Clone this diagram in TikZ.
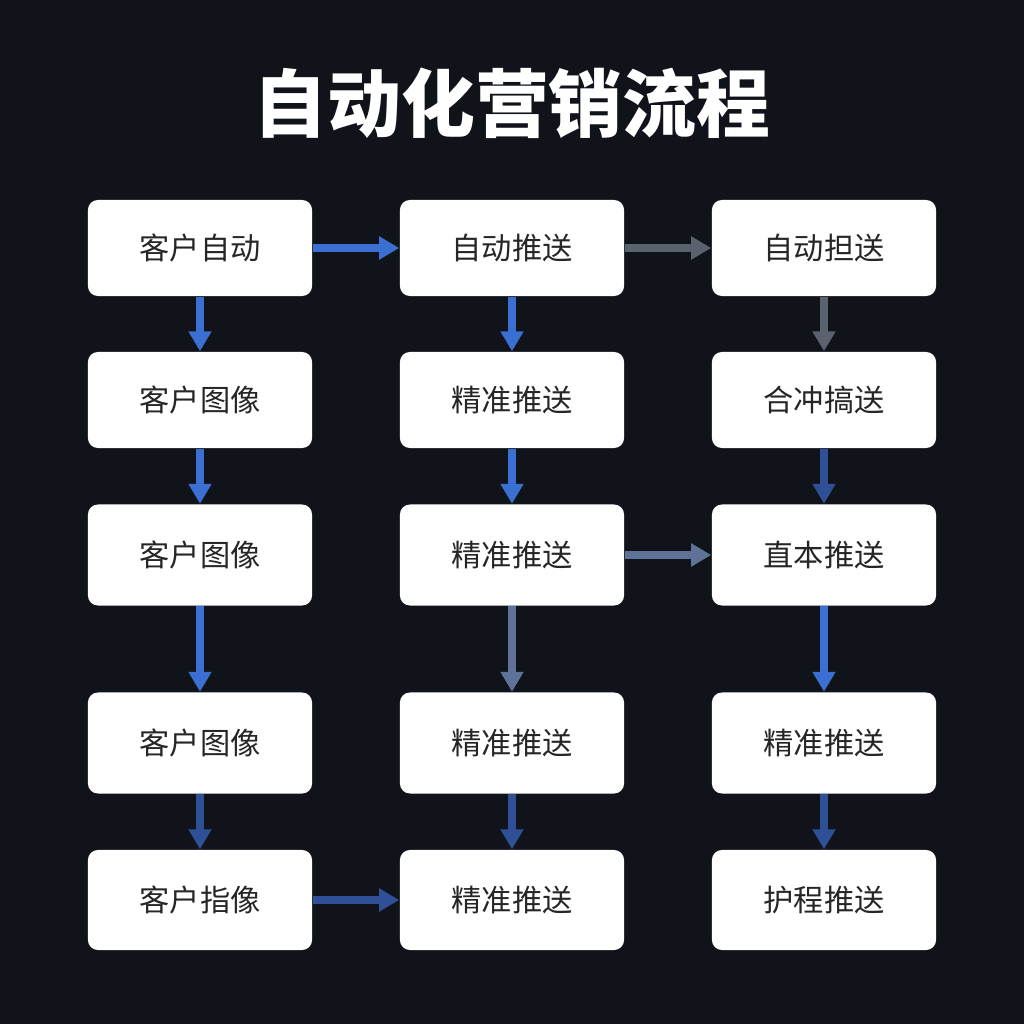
\documentclass[tikz,border=0pt]{standalone}
\usepackage{fontspec}
\newfontfamily\cjk{Noto Sans CJK SC}
\usetikzlibrary{arrows.meta}
\definecolor{bg}{HTML}{10131A}
\definecolor{flowblue}{HTML}{3C6FD2}
\definecolor{flowdark}{HTML}{2F4F96}
\definecolor{flowgray}{HTML}{5A6270}
\definecolor{flowslate}{HTML}{5F7298}

\tikzset{
  stage/.style={draw=none,fill=white,rounded corners=0.1cm,minimum width=2.24cm,
    minimum height=0.96cm,inner sep=0pt,font=\cjk\fontsize{8.6}{10}\selectfont,text=black!85},
  flow/.style={line width=2.1pt,-{Triangle[length=0.2cm,width=0.22cm]}},
}

\begin{document}
\begin{tikzpicture}[x=0.01cm,y=-0.01cm]
				\fill[bg] (0,0) rectangle (1024,1024);
				\useasboundingbox (0,0) rectangle (1024,1024);
				\node[text=white,font=\cjk\bfseries\fontsize{21}{24}\selectfont] (title) at (512,103) {自动化营销流程};
				
				%column 1
				\node[stage] (a1) at (200,248) {客户自动};
				\node[stage] (a2) at (200,400) {客户图像};
				\node[stage,minimum height=1.01cm] (a3) at (200,555) {客户图像};
				\node[stage,minimum height=1.01cm] (a4) at (200,743) {客户图像};
				\node[stage,minimum height=1cm] (a5) at (200,900) {客户指像};
				%column 2
				\node[stage] (b1) at (512,248) {自动推送};
				\node[stage] (b2) at (512,400) {精准推送};
				\node[stage,minimum height=1.01cm] (b3) at (512,555) {精准推送};
				\node[stage,minimum height=1.01cm] (b4) at (512,743) {精准推送};
				\node[stage,minimum height=1cm] (b5) at (512,900) {精准推送};
				%column 3
				\node[stage] (c1) at (824,248) {自动担送};
				\node[stage] (c2) at (824,400) {合冲搞送};
				\node[stage,minimum height=1.01cm] (c3) at (824,555) {直本推送};
				\node[stage,minimum height=1.01cm] (c4) at (824,743) {精准推送};
				\node[stage,minimum height=1cm] (c5) at (824,900) {护程推送};
				
				\draw[flow,flowblue] (a1) -- (a2);
				\draw[flow,flowblue] (a2) -- (a3);
				\draw[flow,flowblue] (a3) -- (a4);
				\draw[flow,flowdark] (a4) -- (a5);
				\draw[flow,flowblue] (b1) -- (b2);
				\draw[flow,flowblue] (b2) -- (b3);
				\draw[flow,flowslate] (b3) -- (b4);
				\draw[flow,flowdark] (b4) -- (b5);
				\draw[flow,flowgray] (c1) -- (c2);
				\draw[flow,flowdark] (c2) -- (c3);
				\draw[flow,flowblue] (c3) -- (c4);
				\draw[flow,flowdark] (c4) -- (c5);
				
				\draw[flow,flowblue] (a1) -- (b1);
				\draw[flow,flowgray] (b1) -- (c1);
				\draw[flow,flowslate] (b3) -- (c3);
				\draw[flow,flowdark] (a5) -- (b5);
			\end{tikzpicture}
\end{document}
